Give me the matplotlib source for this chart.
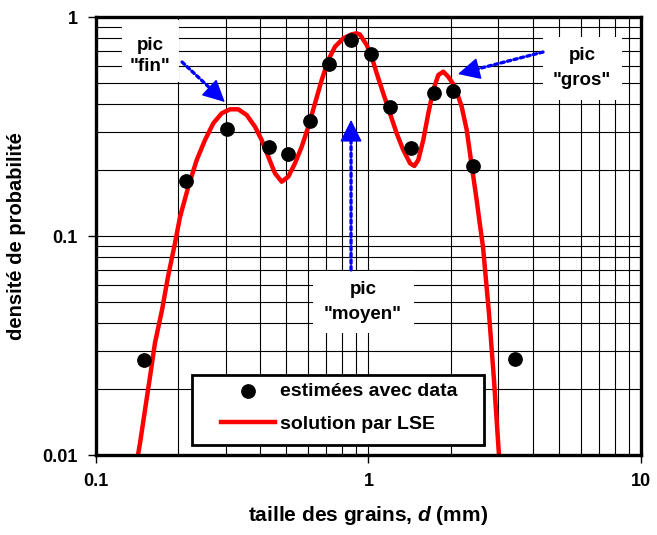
import numpy as np
import matplotlib
matplotlib.use("Agg")
import matplotlib.pyplot as plt
from matplotlib.patches import Rectangle
from matplotlib.ticker import LogLocator, NullFormatter, FixedLocator, FixedFormatter

plt.rcParams["font.family"] = ["Liberation Sans", "DejaVu Sans"]
plt.rcParams["font.weight"] = "bold"
plt.rcParams["mathtext.fontset"] = "custom"
plt.rcParams["mathtext.it"] = "Liberation Sans:bold:italic"
plt.rcParams["mathtext.rm"] = "Liberation Sans:bold"

# densités estimées à partir des données (points)
d_data = [0.150, 0.214, 0.303, 0.431, 0.507, 0.610, 0.716, 0.863, 1.02,
          1.20, 1.43, 1.74, 2.04, 2.42, 3.45]
p_data = [0.0272, 0.178, 0.308, 0.255, 0.237, 0.335, 0.61, 0.785, 0.678,
          0.388, 0.252, 0.45, 0.459, 0.209, 0.0274]

# solution par LSE (courbe)
d_lse = [0.1426, 0.1451, 0.1513, 0.1578, 0.1646, 0.1747, 0.1837, 0.1950,
         0.2034, 0.2182, 0.2342, 0.2512, 0.2694, 0.2892, 0.3102, 0.3329,
         0.3573, 0.3833, 0.4056, 0.4288, 0.4538, 0.4803, 0.5078, 0.5374,
         0.5688, 0.6014, 0.6365, 0.6735, 0.7119, 0.7535, 0.8083, 0.8677,
         0.9052, 0.9307, 0.9849, 1.027, 1.072, 1.133, 1.199, 1.269, 1.342,
         1.421, 1.473, 1.523, 1.589, 1.658, 1.729, 1.804, 1.882, 1.963,
         2.077, 2.198, 2.294, 2.358, 2.425, 2.495, 2.551, 2.632, 2.699,
         2.768, 2.888, 3.012]
p_lse = [0.0100, 0.01134, 0.01605, 0.0227, 0.0325, 0.0459, 0.0650, 0.0929,
         0.1221, 0.1679, 0.2223, 0.2744, 0.3270, 0.3633, 0.3790, 0.3790,
         0.3568, 0.3155, 0.2744, 0.2302, 0.1933, 0.1770, 0.1866, 0.2148,
         0.2557, 0.3155, 0.4036, 0.5157, 0.6362, 0.7317, 0.7993, 0.8337,
         0.8424, 0.8320, 0.7450, 0.6588, 0.5533, 0.4482, 0.3633, 0.2944,
         0.2470, 0.2148, 0.2088, 0.2223, 0.2744, 0.3633, 0.4642, 0.5435,
         0.5627, 0.5336, 0.4806, 0.3895, 0.3048, 0.2385, 0.1866, 0.1460,
         0.1183, 0.0891, 0.0630, 0.0445, 0.0220, 0.0100]

fig = plt.figure(figsize=(6.57, 5.35), dpi=100)
ax = fig.add_axes([0.1461, 0.1495, 0.8295, 0.8187])
ax.set_xscale("log")
ax.set_yscale("log")
ax.set_xlim(0.1, 10)
ax.set_ylim(0.01, 1)

# grille majeure + mineure, style Excel
ax.xaxis.set_minor_locator(LogLocator(base=10, subs=np.arange(2, 10)))
ax.yaxis.set_minor_locator(LogLocator(base=10, subs=np.arange(2, 10)))
ax.xaxis.set_minor_formatter(NullFormatter())
ax.yaxis.set_minor_formatter(NullFormatter())
ax.grid(True, which="both", color="black", lw=0.8)
ax.set_axisbelow(True)
ax.tick_params(which="minor", length=0)
ax.tick_params(which="major", length=6, width=1, direction="out",
               labelsize=13, pad=7)
ax.xaxis.set_major_locator(FixedLocator([0.1, 1, 10]))
ax.xaxis.set_major_formatter(FixedFormatter(["0.1", "1", "10"]))
ax.yaxis.set_major_locator(FixedLocator([0.01, 0.1, 1]))
ax.yaxis.set_major_formatter(FixedFormatter(["0.01", "0.1", "1"]))
for s in ax.spines.values():
    s.set_linewidth(2.4)
    s.set_zorder(10)

# cadres blancs des annotations (cachent la grille)
for x0, y0, w, h in [(0.048, 0.852, 0.104, 0.141),
                     (0.398, 0.279, 0.185, 0.141),
                     (0.820, 0.811, 0.145, 0.143)]:
    ax.add_patch(Rectangle((x0, y0), w, h, transform=ax.transAxes,
                           facecolor="white", edgecolor="none", zorder=2))

tk = dict(transform=ax.transAxes, ha="center", va="center", fontsize=13.5,
          fontweight="bold", zorder=3)
ax.text(0.099, 0.936, "pic", **tk)
ax.text(0.099, 0.886, '"fin"', **tk)
ax.text(0.490, 0.379, "pic", **tk)
ax.text(0.490, 0.320, '"moyen"', **tk)
ax.text(0.892, 0.913, "pic", **tk)
ax.text(0.892, 0.856, '"gros"', **tk)

# flèches pointillées bleues : tige pointillée + pointe pleine
fleches = [((0.297, 0.409), (0.207, 0.623), (-5.9, 5.5)),
           ((0.863, 0.339), (0.863, 0.070), (0.0, -8.0)),
           ((2.13, 0.549), (4.37, 0.692), (7.7, 2.0))]
for tip, start, back in fleches:
    ax.annotate("", xy=tip, xytext=start, zorder=4,
                arrowprops=dict(arrowstyle="-", color="blue", lw=2.4,
                                linestyle=(0, (1, 1)), shrinkA=0, shrinkB=9))
    ax.annotate("", xy=tip, xytext=back, textcoords="offset points", zorder=4,
                arrowprops=dict(arrowstyle="-|>,head_length=0.7,head_width=0.35",
                                color="blue", lw=1, mutation_scale=20,
                                shrinkA=0, shrinkB=0))

ax.plot(d_data, p_data, "o", color="black", ms=9.6, zorder=6)
ax.plot(d_lse, p_lse, "-", color="red", lw=3.2, zorder=5,
        solid_joinstyle="round", solid_capstyle="butt")

# légende (cadre noir, fond blanc)
ax.add_patch(Rectangle((0.176, 0.0228), 0.536, 0.160, transform=ax.transAxes,
                       facecolor="white", edgecolor="black", lw=2, zorder=7))
ax.plot([0.279], [0.146], "o", color="black", ms=9.6, transform=ax.transAxes,
        zorder=8)
ax.plot([0.229, 0.328], [0.0753, 0.0753], "-", color="red", lw=3.2,
        transform=ax.transAxes, zorder=8)
lk = dict(transform=ax.transAxes, ha="left", va="center", fontsize=14,
          fontweight="bold", zorder=8)
ax.text(0.337, 0.146, "estimées avec data", **lk)
ax.text(0.337, 0.0700, "solution par LSE", **lk)

ax.set_xlabel(r"taille des grains, $d$ (mm)", fontsize=15, labelpad=10,
              fontweight="bold")
ax.set_ylabel("densité de probabilité", fontsize=14.5, labelpad=12,
              fontweight="bold")

fig.savefig("out.png", dpi=100)
